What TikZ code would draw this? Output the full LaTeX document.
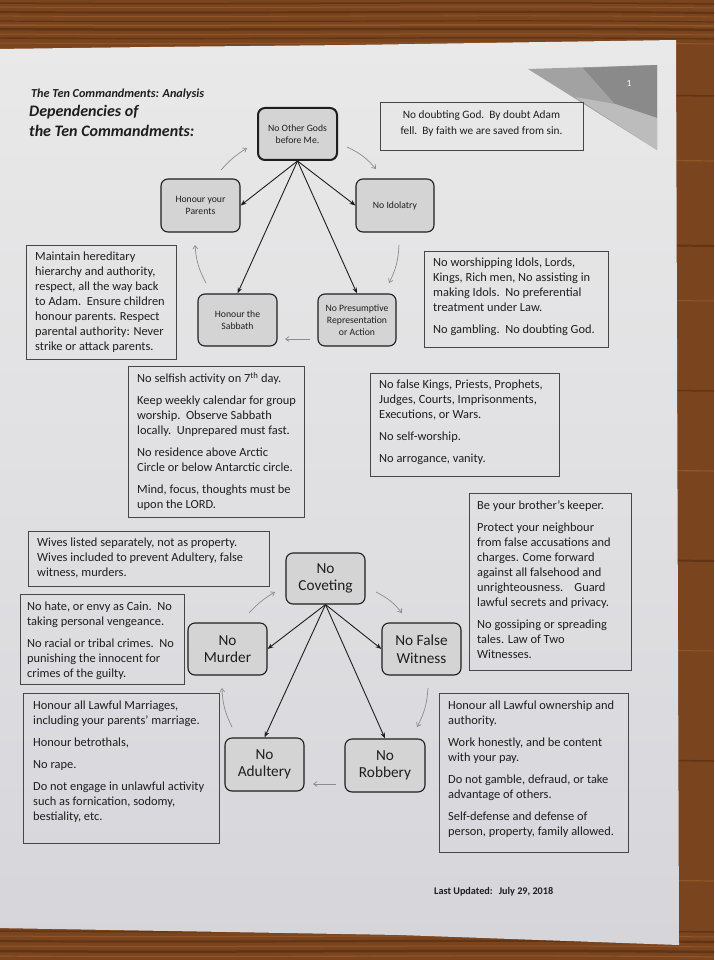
\documentclass[tikz,border=0pt]{standalone}
\usepackage{fontspec}
\setmainfont{Carlito}
\usetikzlibrary{arrows.meta}
\definecolor{wood}{RGB}{122,68,30}
\definecolor{wooddark}{RGB}{78,40,14}
\definecolor{woodlight}{RGB}{165,100,48}
\definecolor{paperA}{RGB}{234,233,233}
\definecolor{paperB}{RGB}{214,213,218}
\definecolor{nodefill}{RGB}{212,212,212}
\definecolor{ink}{RGB}{30,30,30}
\definecolor{boxline}{RGB}{70,70,70}
\definecolor{garrowc}{RGB}{140,140,140}
\definecolor{tri1}{RGB}{162,162,162}
\definecolor{tri2}{RGB}{138,138,138}
\definecolor{tri3}{RGB}{188,188,188}
\begin{document}
\begin{tikzpicture}[x=1pt,y=-1pt,
 cmd/.style={draw=ink, fill=nodefill, rounded corners=7pt, line width=1.1pt, align=center, inner sep=0pt, text=ink},
 smallcmd/.style={cmd, font=\fontsize{9.7}{11.7}\selectfont},
 bigcmd/.style={cmd, font=\fontsize{15.3}{17.5}\selectfont},
 notebox/.style={draw=boxline, line width=0.9pt, inner sep=0pt},
 notetext/.style={anchor=north west, align=left, inner sep=0pt, text=ink, font=\fontsize{12.4}{15}\selectfont},
 barrow/.style={draw=ink, line width=0.9pt, -{Stealth[length=6pt,width=4.5pt]}},
 garrow/.style={draw=garrowc, line width=0.7pt, -{Straight Barb[length=3.5pt,width=5pt]}},
]
\useasboundingbox (0,0) rectangle (714,960);
% wood background
\fill[wood] (0,0) rectangle (714,960);
\foreach \yy/\cc/\ww in {3/wooddark/1.5, 7/woodlight/1, 12/wooddark/2.2, 16/woodlight/0.8, 21/wooddark/1.2, 25/woodlight/1.5, 29/wooddark/2.5, 34/woodlight/1, 38/wooddark/1.4, 43/woodlight/1,
  95/wooddark/1.5, 160/woodlight/1.2, 245/wooddark/2, 300/woodlight/1, 390/wooddark/1.5, 470/woodlight/1.2, 560/wooddark/2, 650/woodlight/1, 760/wooddark/1.5, 880/woodlight/1.2,
  931/wooddark/1.5, 936/woodlight/1, 941/wooddark/2.2, 946/woodlight/1, 951/wooddark/2.5, 956/woodlight/1.2}
  \draw[\cc, line width=\ww pt, opacity=0.55] (0,\yy) .. controls (240,\yy+2) and (480,\yy-2) .. (714,\yy+1);
% paper
\shade[top color=paperA, bottom color=paperB] (-5,49) -- (150,47) -- (350,45) -- (676,40) -- (679,945) -- (400,935) -- (-5,928) -- cycle;
% corner triangle
\fill[tri1] (528,69) -- (657,65) -- (657,150) -- cycle;
\fill[tri2] (583,68) -- (657,65) -- (657,118) -- (615,104) -- cycle;
\fill[tri3] (575,97) -- (615,104) -- (657,118) -- (657,150) -- cycle;
\node[text=white, font=\fontsize{9.5}{10}\selectfont, inner sep=0pt] (pg) at (629,83) {1};
% titles
\node[anchor=base west, inner sep=0pt, text=ink, font=\fontsize{12.2}{14}\selectfont\bfseries\itshape] (t1) at (31,98) {The Ten Commandments: Analysis};
\node[anchor=base west, inner sep=0pt, text=ink, font=\fontsize{16}{19}\selectfont\bfseries\itshape] (t2) at (29,117) {Dependencies of};
\node[anchor=base west, inner sep=0pt, text=ink, font=\fontsize{16}{19}\selectfont\bfseries\itshape] (t3) at (29,137) {the Ten Commandments:};
% ---------- upper group commands
\node[smallcmd, line width=2pt, minimum width=79pt, minimum height=52pt] (og) at (297.5,134) {No Other Gods\\before Me.};
\node[smallcmd, minimum width=79pt, minimum height=53pt] (hp) at (200.5,205.5) {Honour your\\Parents};
\node[smallcmd, minimum width=78pt, minimum height=53pt] (ni) at (395,205.5) {No Idolatry};
\node[smallcmd, minimum width=79pt, minimum height=52pt] (hs) at (237.5,320) {Honour the\\Sabbath};
\node[smallcmd, minimum width=78pt, minimum height=52pt] (np) at (357,320) {No Presumptive\\Representation\\or Action};
% ---------- lower group commands
\node[bigcmd, minimum width=79pt, minimum height=51pt] (nc) at (325.5,578.5) {No\\Coveting};
\node[bigcmd, minimum width=79pt, minimum height=52pt] (nm) at (227.5,649) {No\\Murder};
\node[bigcmd, minimum width=79pt, minimum height=52pt] (nf) at (421.5,649) {No False\\Witness};
\node[bigcmd, minimum width=79pt, minimum height=53pt] (na) at (264.5,764.5) {No\\Adultery};
\node[bigcmd, minimum width=80pt, minimum height=53pt] (nr) at (385,765.5) {No\\Robbery};
% ---------- note boxes
\node[notebox, minimum width=203pt, minimum height=48pt] (nd) at (481.5,126) {};
\node[align=center, inner sep=0pt, text=ink, font=\fontsize{11.3}{16}\selectfont] (ndt) at (481.5,123.5) {No doubting God.\ \ By doubt Adam\\fell.\ \ By faith we are saved from sin.};
\node[notebox, minimum width=150pt, minimum height=114pt] (mh) at (101,302) {};
\node[notetext] (mht) at (35,252) {Maintain hereditary\\hierarchy and authority,\\respect, all the way back\\to Adam.\ \ Ensure children\\honour parents. Respect\\parental authority: Never\\strike or attack parents.};
\node[notebox, minimum width=184pt, minimum height=96pt] (nw) at (516,299) {};
\node[notetext] (nwt) at (433,258) {No worshipping Idols, Lords,\\Kings, Rich men, No assisting in\\making Idols.\ \ No preferential\\treatment under Law.\\[7pt]No gambling.\ \ No doubting God.};
\node[notebox, minimum width=176pt, minimum height=151pt] (sn) at (216,441.5) {};
\node[notetext] (snt) at (137,372) {No selfish activity on 7\textsuperscript{th} day.\\[7pt]Keep weekly calendar for group\\worship.\ \ Observe Sabbath\\locally.\ \ Unprepared must fast.\\[7pt]No residence above Arctic\\Circle or below Antarctic circle.\\[7pt]Mind, focus, thoughts must be\\upon the LORD.};
\node[notebox, minimum width=189pt, minimum height=103pt] (fk) at (464.5,424.5) {};
\node[notetext] (fkt) at (379,380) {No false Kings, Priests, Prophets,\\Judges, Courts, Imprisonments,\\Executions, or Wars.\\[7pt]No self-worship.\\[7pt]No arrogance, vanity.};
\node[notebox, minimum width=162pt, minimum height=177pt] (bk) at (550,581.5) {};
\node[notetext] (bkt) at (477,501) {Be your brother’s keeper.\\[7pt]Protect your neighbour\\from false accusations and\\charges. Come forward\\against all falsehood and\\unrighteousness.\ \ \ \ Guard\\lawful secrets and privacy.\\[7pt]No gossiping or spreading\\tales. Law of Two\\Witnesses.};
\node[notebox, minimum width=241pt, minimum height=55pt] (wv) at (148.5,558.5) {};
\node[notetext] (wvt) at (37,538) {Wives listed separately, not as property.\\Wives included to prevent Adultery, false\\witness, murders.};
\node[notebox, minimum width=164pt, minimum height=90pt] (nh) at (102,639) {};
\node[notetext] (nht) at (27,602) {No hate, or envy as Cain.\ \ No\\taking personal vengeance.\\[7pt]No racial or tribal crimes.\ \ No\\punishing the innocent for\\crimes of the guilty.};
\node[notebox, minimum width=196pt, minimum height=150pt] (hm) at (121,768) {};
\node[notetext] (hmt) at (33,701) {Honour all Lawful Marriages,\\including your parents’ marriage.\\[7pt]Honour betrothals,\\[7pt]No rape.\\[7pt]Do not engage in unlawful activity\\such as fornication, sodomy,\\bestiality, etc.};
\node[notebox, minimum width=189pt, minimum height=159pt] (ow) at (533.5,772.5) {};
\node[notetext] (owt) at (448,701) {Honour all Lawful ownership and\\authority.\\[7pt]Work honestly, and be content\\with your pay.\\[7pt]Do not gamble, defraud, or take\\advantage of others.\\[7pt]Self-defense and defense of\\person, property, family allowed.};
% footer
\node[anchor=west, inner sep=0pt, text=ink, font=\fontsize{10.2}{12}\selectfont\bfseries] (lu) at (434,892) {Last Updated:\hspace{6pt}July 29, 2018};
% ---------- black arrows
\draw[barrow] (og.south) -- (hp.east);
\draw[barrow] (og.south) -- (ni.west);
\draw[barrow] (og.south) -- (hs.north);
\draw[barrow] (og.south) -- (np.north);
\draw[barrow] (nc.south) -- (nm.east);
\draw[barrow] (nc.south) -- (nf.west);
\draw[barrow] (nc.south) -- (na.north);
\draw[barrow] (nc.south) -- (nr.north);
% ---------- gray cycle arrows
\coordinate (c1a) at (221,170); \coordinate (c1b) at (247,148);
\coordinate (c2a) at (347,147); \coordinate (c2b) at (376,169);
\coordinate (c3a) at (399,245); \coordinate (c3b) at (389,283);
\coordinate (c4a) at (310,339); \coordinate (c4b) at (285,339);
\coordinate (c5a) at (206,283); \coordinate (c5b) at (195,245);
\draw[garrow] (c1a) to[bend left=8] (c1b);
\draw[garrow] (c2a) to[bend left=12] (c2b);
\draw[garrow] (c3a) to[bend left=12] (c3b);
\draw[garrow] (c4a) -- (c4b);
\draw[garrow] (c5a) to[bend left=12] (c5b);
\coordinate (d1a) at (249,613); \coordinate (d1b) at (275,592);
\coordinate (d2a) at (376,592); \coordinate (d2b) at (402,613);
\coordinate (d3a) at (428,688); \coordinate (d3b) at (417,727);
\coordinate (d4a) at (336,784); \coordinate (d4b) at (313,784);
\coordinate (d5a) at (232,727); \coordinate (d5b) at (222,688);
\draw[garrow] (d1a) to[bend left=8] (d1b);
\draw[garrow] (d2a) to[bend left=12] (d2b);
\draw[garrow] (d3a) to[bend left=12] (d3b);
\draw[garrow] (d4a) -- (d4b);
\draw[garrow] (d5a) to[bend left=12] (d5b);
\end{tikzpicture}
\end{document}
